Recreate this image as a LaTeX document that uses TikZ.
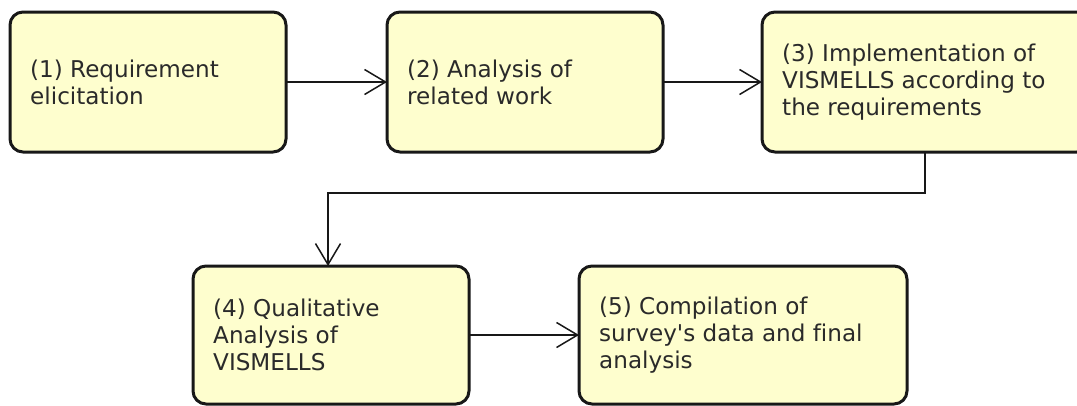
\documentclass[tikz,border=0pt]{standalone}
\usepackage{fontspec}
\setmainfont{DejaVu Sans}[Ligatures={TeXOff,NoCommon}]
\usetikzlibrary{arrows.meta}
\definecolor{boxfill}{HTML}{FEFECE}
\definecolor{boxline}{HTML}{181818}
\definecolor{txt}{HTML}{2A2A2A}
\tikzset{
  actbox/.style={draw=boxline, fill=boxfill, line width=3pt, rounded corners=13pt},
  lbl/.style={anchor=west, align=left, inner sep=0pt, text=txt,
    font=\fontsize{23.1}{27}\selectfont},
  conn/.style={draw=boxline, line width=1.5pt, -{Straight Barb[length=21pt,width=25pt,line width=1.5pt]}}
}
\begin{document}
\begin{tikzpicture}[x=1pt,y=-1pt]
\useasboundingbox (0,0) rectangle (1077,405);
\clip (0,0) rectangle (1077,405);
\fill[white] (0,0) rectangle (1077,405);
% boxes
\draw[actbox] (10,12) rectangle (286,152);
\draw[actbox] (387,12) rectangle (663,152);
\draw[actbox] (762,12) rectangle (1090,152);
\draw[actbox] (193,266) rectangle (469,404);
\draw[actbox] (579,266) rectangle (907,404);
% anchors for connectors
\coordinate (b1e) at (286,82);
\coordinate (b2w) at (387,82);
\coordinate (b2e) at (663,82);
\coordinate (b3w) at (762,82);
\coordinate (b3s) at (925,152);
\coordinate (b4n) at (328,266);
\coordinate (b4e) at (469,335);
\coordinate (b5w) at (579,335);
% labels
\node[lbl] (t1) at (30,82) {(1) Requirement\\elicitation};
\node[lbl] (t2) at (407,82) {(2) Analysis of\\related work};
\node[lbl] (t3) at (782,82) {(3) Implementation of\\VISMELLS according to\\the requirements};
\node[lbl] (t4) at (213,335) {(4) Qualitative\\Analysis of\\VISMELLS};
\node[lbl] (t5) at (599,335) {(5) Compilation of\\survey's data and final\\analysis};
% connectors
\draw[conn] (b1e) -- (b2w);
\draw[conn] (b2e) -- (b3w);
\draw[conn] (b3s) -- (925,193) -- (328,193) -- (b4n);
\draw[conn] (b4e) -- (b5w);
\end{tikzpicture}
\end{document}
